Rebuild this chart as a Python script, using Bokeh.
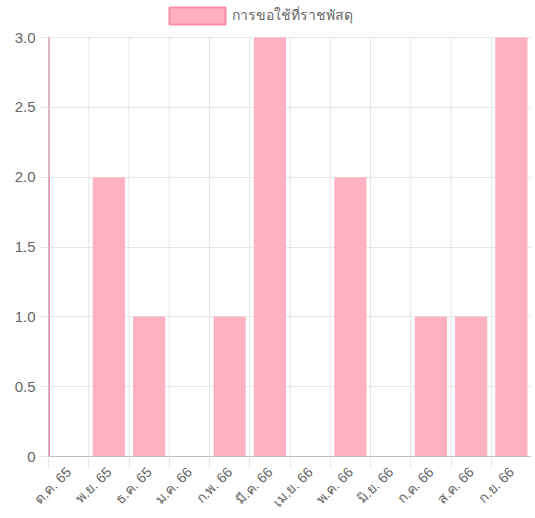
from bokeh.plotting import figure
from bokeh.models import FixedTicker, Range1d, Legend, LegendItem, ColumnDataSource
from bokeh.embed import file_html
from bokeh.resources import INLINE

categories = ["ต.ค. 65", "พ.ย. 65", "ธ.ค. 65", "ม.ค. 66", "ก.พ. 66", "มี.ค. 66",
              "เม.ย. 66", "พ.ค. 66", "มิ.ย. 66", "ก.ค. 66", "ส.ค. 66", "ก.ย. 66"]
values = [0, 2, 1, 0, 1, 3, 0, 2, 0, 1, 1, 3]
series_name = "การขอใช้ที่ราชพัสดุ"
y_ticks = [0, 0.5, 1.0, 1.5, 2.0, 2.5, 3.0]
y_tick_labels = ["0", "0.5", "1.0", "1.5", "2.0", "2.5", "3.0"]

xs = list(range(len(categories)))
boundaries = [i - 0.5 for i in xs]
y_max = max(y_ticks)

FONT = "Liberation Sans, Noto Sans, sans-serif"
TXT = "#666666"
GRID = "#e5e5e5"
BAR_FILL = "#ffb1c1"      # rgba(255,99,132,0.5) over white
BAR_EDGE = "#ff8aa3"

# frame spans the whole top (legend lives inside it); the value axis ends at y_max
FRAME_TOP_GAP = 37     # px between frame top and the y_max gridline
FRAME_H = 456
y_top = y_max * FRAME_H / (FRAME_H - FRAME_TOP_GAP)

p = figure(width=531, height=518, output_backend="svg", toolbar_location=None,
           x_range=Range1d(-0.5, len(categories) - 0.5), y_range=Range1d(0, y_top),
           min_border_left=48, min_border_right=0, min_border_top=0, min_border_bottom=60)
p.outline_line_color = None
p.background_fill_color = "white"
p.extra_x_ranges = {"legend_only": Range1d(1000, 1001)}

# vertical grid lines (category boundaries) limited to the value range
p.segment(x0=boundaries, y0=[0] * len(boundaries), x1=boundaries,
          y1=[y_max] * len(boundaries), line_color=GRID, line_width=1)

src = ColumnDataSource(dict(x=xs, top=values))
p.vbar(x="x", top="top", width=0.8, source=src, fill_color=BAR_FILL, line_color=None)
# same series mapped off-screen: only used to draw the legend swatch with a border
leg_r = p.vbar(x="x", top="top", width=0.8, source=src, x_range_name="legend_only",
               fill_color=BAR_FILL, line_color=BAR_EDGE, line_width=2)

# x axis
xa = p.xaxis[0]
xa.ticker = FixedTicker(ticks=xs, minor_ticks=boundaries)
xa.major_label_overrides = {i: c for i, c in zip(xs, categories)}
xa.major_label_orientation = 0.7854
xa.major_tick_line_color = None
xa.major_tick_out = 8
xa.major_tick_in = 0
xa.minor_tick_out = 12
xa.minor_tick_in = 0
xa.minor_tick_line_color = GRID
xa.axis_line_color = "#c0c0c0"
xa.major_label_text_font = FONT
xa.major_label_text_font_size = "14px"
xa.major_label_text_color = TXT
xa.major_label_standoff = 1

# y axis
ya = p.yaxis[0]
ya.bounds = (0, y_max)
ya.ticker = FixedTicker(ticks=y_ticks, minor_ticks=[])
ya.major_label_overrides = {t: l for t, l in zip(y_ticks, y_tick_labels)}
ya.major_tick_out = 8
ya.major_tick_in = 0
ya.major_tick_line_color = GRID
ya.minor_tick_line_color = None
ya.axis_line_color = "#c0c0c0"
ya.major_label_text_font = FONT
ya.major_label_text_font_size = "15px"
ya.major_label_text_color = TXT
ya.major_label_standoff = 5

p.xgrid[0].visible = False
p.ygrid[0].ticker = FixedTicker(ticks=y_ticks)
p.ygrid[0].grid_line_color = GRID

legend = Legend(items=[LegendItem(label=series_name, renderers=[leg_r])],
                location=(114, FRAME_H - 26), orientation="horizontal",
                glyph_width=70, glyph_height=21, label_standoff=0, padding=0, margin=0,
                spacing=0, border_line_color=None, background_fill_alpha=0,
                label_text_font=FONT, label_text_font_size="14px", label_text_color=TXT,
                label_height=21)
p.add_layout(legend, "center")

open("out.html", "w").write(file_html(p, INLINE))
